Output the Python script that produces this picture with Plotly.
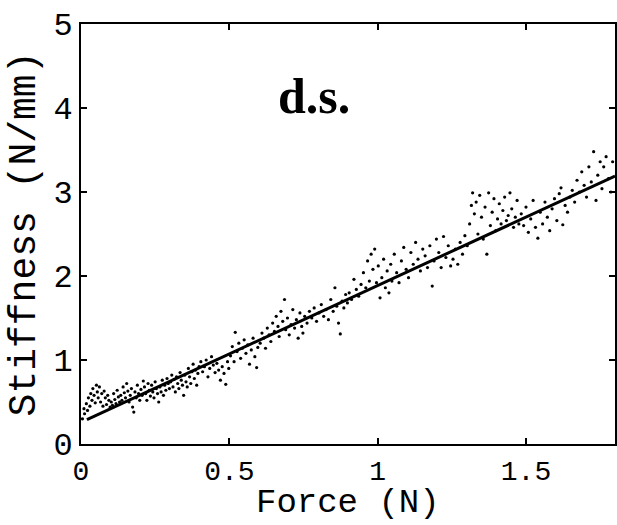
import plotly.graph_objects as go

# --- data ---
force_pts = [
    0.005, 0.010, 0.012, 0.018, 0.022, 0.025, 0.030, 0.033, 0.037, 0.040, 0.044, 0.048, 0.052, 0.055, 0.058, 0.062, 0.066, 0.070, 0.074, 0.078, 0.082, 0.086, 0.090, 0.094, 0.098,
    0.102, 0.106, 0.110, 0.114, 0.118, 0.122, 0.126, 0.130, 0.134, 0.138, 0.142, 0.146, 0.150, 0.154, 0.158, 0.162, 0.166, 0.170, 0.174, 0.178, 0.182, 0.186, 0.190, 0.194, 0.198,
    0.202, 0.206, 0.210, 0.214, 0.218, 0.222, 0.226, 0.230, 0.234, 0.238, 0.242, 0.246, 0.250, 0.254, 0.258, 0.262, 0.266, 0.270, 0.274, 0.278, 0.282, 0.286, 0.290, 0.294, 0.298,
    0.302, 0.306, 0.310, 0.314, 0.318, 0.322, 0.326, 0.330, 0.334, 0.338, 0.342, 0.346, 0.350, 0.354, 0.358, 0.362, 0.366, 0.370, 0.374, 0.378, 0.382, 0.386, 0.390, 0.394, 0.398,
    0.404, 0.410, 0.416, 0.422, 0.428, 0.434, 0.440, 0.446, 0.452, 0.458, 0.464, 0.470, 0.476, 0.482, 0.488, 0.494, 0.498,
    0.504, 0.510, 0.516, 0.520, 0.526, 0.532, 0.538, 0.544, 0.550, 0.556, 0.562, 0.568, 0.574, 0.580, 0.586, 0.592, 0.596,
    0.604, 0.610, 0.616, 0.622, 0.628, 0.634, 0.640, 0.646, 0.652, 0.658, 0.664, 0.668, 0.674, 0.680, 0.686, 0.690, 0.696, 0.702, 0.708, 0.714, 0.720, 0.726, 0.732, 0.738, 0.744, 0.748,
    0.754, 0.762, 0.770, 0.778, 0.786, 0.794, 0.802, 0.810, 0.818, 0.826, 0.834, 0.842, 0.850, 0.856, 0.862, 0.868, 0.874, 0.880, 0.886, 0.892, 0.898,
    0.904, 0.912, 0.920, 0.928, 0.936, 0.944, 0.952, 0.960, 0.966, 0.972, 0.978, 0.984, 0.990, 0.996, 1.002, 1.008, 1.014, 1.020, 1.026, 1.032, 1.038, 1.044, 1.048,
    1.056, 1.064, 1.072, 1.080, 1.088, 1.096, 1.104, 1.112, 1.120, 1.128, 1.136, 1.144, 1.152, 1.160, 1.168, 1.176, 1.184, 1.190, 1.198, 1.206, 1.214, 1.222, 1.230, 1.238, 1.246,
    1.254, 1.262, 1.270, 1.278, 1.286, 1.294, 1.302, 1.310, 1.316, 1.320, 1.326, 1.332, 1.338, 1.344, 1.350, 1.356, 1.362, 1.368, 1.374, 1.380, 1.386, 1.392, 1.398, 1.404, 1.410, 1.416, 1.422, 1.428, 1.434, 1.440, 1.446, 1.452, 1.458, 1.464, 1.470, 1.476,
    1.484, 1.492, 1.500, 1.508, 1.516, 1.524, 1.532, 1.540, 1.548, 1.556, 1.564, 1.572, 1.580, 1.588, 1.596, 1.604, 1.612, 1.618, 1.624, 1.632, 1.640, 1.648,
    1.656, 1.664, 1.672, 1.680, 1.688, 1.696, 1.704, 1.712, 1.720, 1.728, 1.736, 1.742, 1.750, 1.756, 1.762, 1.770, 1.778, 1.786, 1.792,
]
stiffness_pts = [
    0.30, 0.42, 0.36, 0.48, 0.40, 0.55, 0.45, 0.60, 0.52, 0.66, 0.58, 0.49, 0.70, 0.62, 0.55, 0.68, 0.50, 0.60, 0.45, 0.63, 0.55, 0.47, 0.58, 0.52, 0.44,
    0.50, 0.46, 0.60, 0.53, 0.48, 0.64, 0.56, 0.50, 0.58, 0.52, 0.68, 0.61, 0.55, 0.72, 0.63, 0.50, 0.58, 0.66, 0.44, 0.38, 0.62, 0.55, 0.70, 0.60, 0.52,
    0.65, 0.58, 0.75, 0.68, 0.60, 0.52, 0.72, 0.64, 0.57, 0.70, 0.62, 0.55, 0.74, 0.66, 0.60, 0.50, 0.68, 0.62, 0.76, 0.58, 0.70, 0.64, 0.78, 0.72, 0.66,
    0.74, 0.82, 0.68, 0.77, 0.62, 0.80, 0.72, 0.66, 0.85, 0.76, 0.70, 0.58, 0.82, 0.74, 0.68, 0.90, 0.80, 0.72, 0.86, 0.95, 0.78, 0.88, 0.70, 0.84, 0.92,
    0.98, 0.86, 0.92, 1.00, 0.80, 0.90, 1.04, 0.94, 0.85, 0.96, 0.88, 0.76, 0.92, 0.84, 0.71, 0.98, 0.90,
    1.05, 1.16, 0.98, 1.33, 1.10, 1.20, 1.02, 1.14, 1.24, 1.08, 1.18, 0.95, 1.12, 1.26, 1.04, 0.91, 1.15,
    1.20, 1.32, 1.26, 1.14, 1.38, 1.30, 1.22, 1.44, 1.34, 1.52, 1.40, 1.28, 1.58, 1.46, 1.72, 1.36, 1.50, 1.30, 1.42, 1.60, 1.38, 1.48, 1.26, 1.56, 1.40, 1.32,
    1.52, 1.44, 1.58, 1.50, 1.62, 1.46, 1.56, 1.66, 1.52, 1.60, 1.48, 1.72, 1.58, 1.86, 1.64, 1.44, 1.31, 1.70, 1.62, 1.78, 1.68,
    1.80, 1.72, 1.96, 1.84, 1.76, 1.90, 2.04, 1.86, 2.18, 1.94, 2.26, 2.08, 2.32, 1.92, 2.12, 1.74, 1.98, 2.20, 1.86, 2.06, 1.80, 2.14, 1.94,
    2.26, 2.04, 1.92, 2.18, 2.34, 2.08, 1.98, 2.28, 2.14, 2.40, 2.20, 2.06, 2.32, 2.24, 2.10, 2.36, 1.88, 2.18, 2.44, 2.28, 2.10, 2.47, 2.22, 2.36, 2.12,
    2.20, 2.32, 2.14, 2.40, 2.26, 2.48, 2.36, 2.62, 2.84, 2.99, 2.74, 2.88, 2.50, 2.96, 2.70, 2.44, 2.82, 2.26, 2.99, 2.60, 2.76, 2.92, 2.54, 2.68, 2.86, 2.62, 2.78, 2.94, 2.66, 2.72, 2.99, 2.80, 2.58, 2.70, 2.90, 2.62,
    2.74, 2.60, 2.82, 2.52, 2.68, 2.90, 2.58, 2.45, 2.76, 2.62, 2.88, 2.70, 2.54, 2.80, 2.92, 2.66, 2.98, 3.05, 2.61, 2.84, 2.76, 2.94,
    3.02, 2.88, 3.14, 3.00, 3.24, 3.08, 2.94, 3.30, 3.12, 3.48, 2.90, 3.20, 3.36, 3.04, 3.30, 3.42, 3.16, 3.00, 3.36,
]

# fitted regression line (end points)
fit_force = [0.02, 1.80]
fit_stiffness = [0.29, 3.19]

x_ticks = [0, 0.5, 1, 1.5]
x_tick_labels = ["0", "0.5", "1", "1.5"]
y_ticks = [0, 1, 2, 3, 4, 5]
y_tick_labels = ["0", "1", "2", "3", "4", "5"]

fig = go.Figure()
fig.add_trace(go.Scatter(
    x=force_pts, y=stiffness_pts, mode="markers",
    marker=dict(color="black", size=3.2, line=dict(width=0)),
    showlegend=False, hoverinfo="skip",
))
fig.add_trace(go.Scatter(
    x=fit_force, y=fit_stiffness, mode="lines",
    line=dict(color="black", width=3),
    showlegend=False, hoverinfo="skip",
))

mono = "Liberation Mono, Courier New, monospace"

fig.update_layout(
    width=617, height=525,
    margin=dict(l=81, r=0, t=24, b=81),
    paper_bgcolor="white", plot_bgcolor="white",
    font=dict(family=mono, color="black"),
    xaxis=dict(
        range=[0, 1.8], tickvals=x_ticks, ticktext=x_tick_labels,
        ticks="inside", ticklen=6, tickwidth=1.5, tickcolor="black",
        showline=True, linecolor="black", linewidth=2, mirror="ticks",
        showgrid=False, zeroline=False,
        tickfont=dict(family=mono, size=28),
    ),
    yaxis=dict(
        range=[0, 5], tickvals=y_ticks, ticktext=y_tick_labels,
        ticks="inside", ticklen=6, tickwidth=1.5, tickcolor="black",
        showline=True, linecolor="black", linewidth=2, mirror="ticks",
        showgrid=False, zeroline=False,
        tickfont=dict(family=mono, size=32),
        ticklabelstandoff=0,
        title=dict(text="Stiffness (N/mm)", font=dict(family=mono, size=38), standoff=6),
    ),
    annotations=[
        dict(
            text="<b>d.s.</b>", x=0.786, y=4.14, xref="x", yref="y",
            xanchor="center", yanchor="middle", showarrow=False,
            font=dict(family="Liberation Serif, Times New Roman, serif", size=50, color="black"),
        ),
        dict(
            text="Force (N)", x=0.5, y=-0.1905, xref="paper", yref="paper",
            xanchor="center", yanchor="bottom", showarrow=False,
            font=dict(family=mono, size=34, color="black"),
        ),
    ],
)

fig.write_html("out.html")
